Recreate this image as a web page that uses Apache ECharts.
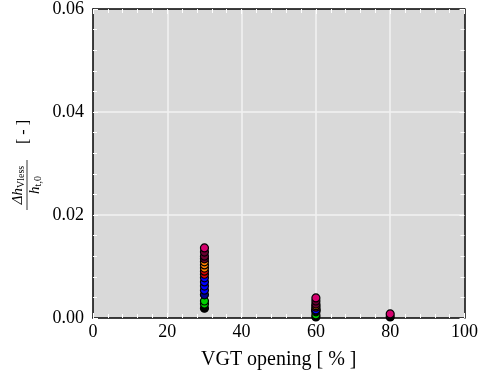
<!DOCTYPE html>
<html>
<head>
<meta charset="utf-8">
<script src="https://cdn.jsdelivr.net/npm/echarts@6/dist/echarts.min.js"></script>
<style>html,body{margin:0;padding:0;background:#fff}#c{width:481px;height:375px}</style>
</head>
<body>
<div id="c"></div>
<script>
// VGT opening [%] vs normalized vaneless enthalpy loss
const xTicks = [0, 20, 40, 60, 80, 100];
const yTicks = [0.00, 0.02, 0.04, 0.06];
const blackPts   = [[30, 0.0019], [60, 0.0017], [60, 0.0002], [80, 0.0002]];
const greenPts   = [[30, 0.0027], [30, 0.0033], [60, 0.0006], [60, 0.0012]];
const navyPts    = [[30, 0.0045], [60, 0.0014]];
const bluePts    = [[30, 0.0054], [30, 0.0062], [30, 0.0070], [30, 0.0078], [60, 0.0016]];
const redPts     = [[30, 0.0085], [30, 0.0091], [60, 0.0021]];
const orangePts  = [[30, 0.0097], [30, 0.0103], [30, 0.0109], [60, 0.0024]];
const maroonPts  = [[30, 0.0115], [30, 0.0120], [30, 0.0128], [60, 0.0027], [60, 0.0033]];
const magentaPts = [[30, 0.0136], [60, 0.0039], [80, 0.0008]];

const groups = [
  {name: 'black', data: blackPts, color: '#000000'},
  {name: 'green', data: greenPts, color: '#00d000'},
  {name: 'navy', data: navyPts, color: '#000090'},
  {name: 'blue', data: bluePts, color: '#0000ff'},
  {name: 'red', data: redPts, color: '#e00000'},
  {name: 'orange', data: orangePts, color: '#ff8000'},
  {name: 'maroon', data: maroonPts, color: '#6a0030'},
  {name: 'magenta', data: magentaPts, color: '#d4006e'}
];

const FONT = 'Liberation Serif';
const chart = echarts.init(document.getElementById('c'), null, {renderer: 'canvas'});

function axisCommon(showLabels) {
  return {
    axisLine: {show: true, onZero: false, lineStyle: {color: '#000', width: 1.5}},
    axisTick: {show: true, inside: true, length: 5, lineStyle: {color: '#fff', width: 1}},
    minorTick: {show: true, splitNumber: 5, length: 4, lineStyle: {color: '#fff', width: 1}},
    axisLabel: {show: showLabels, color: '#000', fontFamily: FONT, fontSize: 18},
  };
}

chart.setOption({
  animation: false,
  backgroundColor: '#fff',
  grid: {left: 93, right: 14, top: 9, bottom: 57, show: true, backgroundColor: '#d9d9d9', borderWidth: 0},
  xAxis: [
    Object.assign(axisCommon(true), {
      type: 'value', min: 0, max: 100, interval: 20, position: 'bottom',
      name: 'VGT opening [ % ]', nameLocation: 'middle', nameGap: 32,
      nameTextStyle: {color: '#000', fontFamily: FONT, fontSize: 20},
      splitLine: {show: true, showMinLine: false, showMaxLine: false, lineStyle: {color: '#f2f2f2', width: 1.5}},
      axisLabel: {show: true, color: '#000', fontFamily: FONT, fontSize: 18, margin: 5}
    }),
    Object.assign(axisCommon(false), {
      type: 'value', min: 0, max: 100, interval: 20, position: 'top', splitLine: {show: false}
    })
  ],
  yAxis: [
    Object.assign(axisCommon(true), {
      type: 'value', min: 0, max: 0.06, interval: 0.02, position: 'left',
      splitLine: {show: true, showMinLine: false, showMaxLine: false, lineStyle: {color: '#f2f2f2', width: 1.5}},
      axisLabel: {show: true, color: '#000', fontFamily: FONT, fontSize: 18, margin: 9,
        formatter: v => v.toFixed(2)}
    }),
    Object.assign(axisCommon(false), {
      type: 'value', min: 0, max: 0.06, interval: 0.02, position: 'right', splitLine: {show: false}
    })
  ],
  series: groups.map(g => ({
    type: 'scatter', name: g.name, data: g.data, symbol: 'circle', symbolSize: 8,
    clip: false,
    itemStyle: {color: g.color, borderColor: '#000', borderWidth: 1.2, opacity: 1}
  })),
  graphic: [{
    type: 'group', x: 27, y: 185, rotation: Math.PI / 2,
    children: [
      {type: 'text', x: 0, y: -1, style: {
        text: '{a|Δh}{s|Vless}', align: 'center', verticalAlign: 'bottom',
        rich: {
          a: {fontFamily: FONT, fontSize: 15, fontStyle: 'italic', fill: '#000', verticalAlign: 'bottom'},
          s: {fontFamily: FONT, fontSize: 10, fill: '#000', verticalAlign: 'bottom'}
        }
      }},
      {type: 'line', shape: {x1: -25, y1: 0, x2: 25, y2: 0}, style: {stroke: '#000', lineWidth: 0.8}},
      {type: 'text', x: 0, y: 1, style: {
        text: '{a|h}{s|t,0}', align: 'center', verticalAlign: 'top',
        rich: {
          a: {fontFamily: FONT, fontSize: 15, fontStyle: 'italic', fill: '#000', verticalAlign: 'bottom'},
          s: {fontFamily: FONT, fontSize: 10, fill: '#000', verticalAlign: 'bottom'}
        }
      }},
      {type: 'text', x: 53, y: -3, style: {
        text: '[ - ]', align: 'center', verticalAlign: 'middle',
        fontFamily: FONT, fontSize: 16, fill: '#000'
      }}
    ]
  }]
});
</script>
</body>
</html>
